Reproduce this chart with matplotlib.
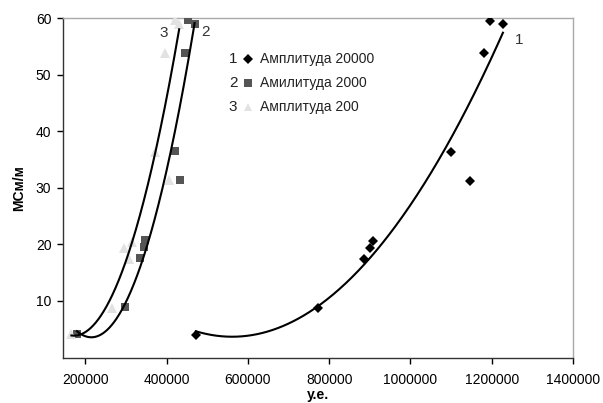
import numpy as np
import matplotlib
matplotlib.use("Agg")
import matplotlib.pyplot as plt
from matplotlib.lines import Line2D

plt.rcParams['font.family'] = ['Liberation Sans', 'DejaVu Sans']

# Series data (x in у.е., y in МСм/м)
x1 = [472000, 773000, 886000, 901000, 907700, 1099600, 1147000, 1182000, 1196000, 1227600]
y1 = [4.0, 8.8, 17.4, 19.3, 20.6, 36.4, 31.2, 53.9, 59.5, 58.9]

x2 = [179600, 298400, 335300, 343400, 347600, 419700, 432000, 446000, 452600, 469000]
y2 = [4.1, 9.0, 17.5, 19.5, 20.7, 36.5, 31.4, 53.9, 59.6, 59.0]

x3 = [166000, 265700, 308000, 296000, 314800, 370500, 407000, 396800, 420000, 431000]
y3 = [4.1, 8.8, 17.4, 19.4, 20.4, 36.4, 31.4, 53.9, 59.6, 58.9]

labels = ["Амплитуда 20000", "Амилитуда 2000", "Амплитуда 200"]
numbers = ["1", "2", "3"]
xticks = [200000, 400000, 600000, 800000, 1000000, 1200000, 1400000]
yticks = [10, 20, 30, 40, 50, 60]

fig = plt.figure(figsize=(6.03, 4.03), dpi=100)
ax = fig.add_axes([62.5/603, 1-357.5/403, (573-62.5)/603, (357.5-18)/403])

styles = [
    dict(marker='D', color='black', ms=5.5),
    dict(marker='s', color='#555555', ms=6),
    dict(marker='^', color='#e2e2e2', ms=7),
]
series = [(x1, y1), (x2, y2), (x3, y3)]

for (xs, ys), st in zip(series, styles):
    xs = np.array(xs, float); ys = np.array(ys, float)
    ax.plot(xs, ys, linestyle='none', marker=st['marker'], color=st['color'],
            ms=st['ms'], markeredgewidth=0, zorder=3)
    c = np.polyfit(xs, ys, 2)
    xx = np.linspace(xs.min(), xs.max(), 300)
    ax.plot(xx, np.polyval(c, xx), color='black', lw=1.5, zorder=4)

ax.set_xlim(144000, 1400000)
ax.set_ylim(0, 60)
ax.set_xticks(xticks)
ax.set_xticklabels([str(v) for v in xticks])
ax.set_yticks(yticks)
ax.tick_params(axis='both', direction='out', length=4, width=1, labelsize=10, colors='black')
ax.tick_params(axis='x', pad=7)
ax.tick_params(axis='y', pad=4)
for s in ['left', 'bottom']:
    ax.spines[s].set_color('#333333'); ax.spines[s].set_linewidth(1)
for s in ['top', 'right']:
    ax.spines[s].set_color('#aaaaaa'); ax.spines[s].set_linewidth(1)

ax.set_xlabel("у.е.", fontsize=10, fontweight='bold', labelpad=1)
ax.set_ylabel("МСм/м", fontsize=10, fontweight='bold', labelpad=7)

# curve labels
ax.text(164/603, 1-33/403, "3", transform=fig.transFigure, fontsize=11, ha='center', va='center', color='#333333')
ax.text(205/603, 1-32/403, "2", transform=fig.transFigure, fontsize=11, ha='center', va='center', color='#333333')
ax.text(519/603, 1-40/403, "1", transform=fig.transFigure, fontsize=11, ha='center', va='center', color='#333333')

# legend
ys_leg = [59, 83, 107]
for num, lab, st, yy in zip(numbers, labels, styles, ys_leg):
    fig.text(233/603, 1-yy/403, num, fontsize=11, ha='center', va='center', color='#222222')
    fig.add_artist(Line2D([248/603], [1-yy/403], transform=fig.transFigure, marker=st['marker'],
                          color=st['color'], ms=st['ms']*0.85, markeredgewidth=0, linestyle='none'))
    fig.text(260/603, 1-yy/403, lab, fontsize=10, ha='left', va='center', color='#222222')

fig.savefig("out.png", dpi=100)
